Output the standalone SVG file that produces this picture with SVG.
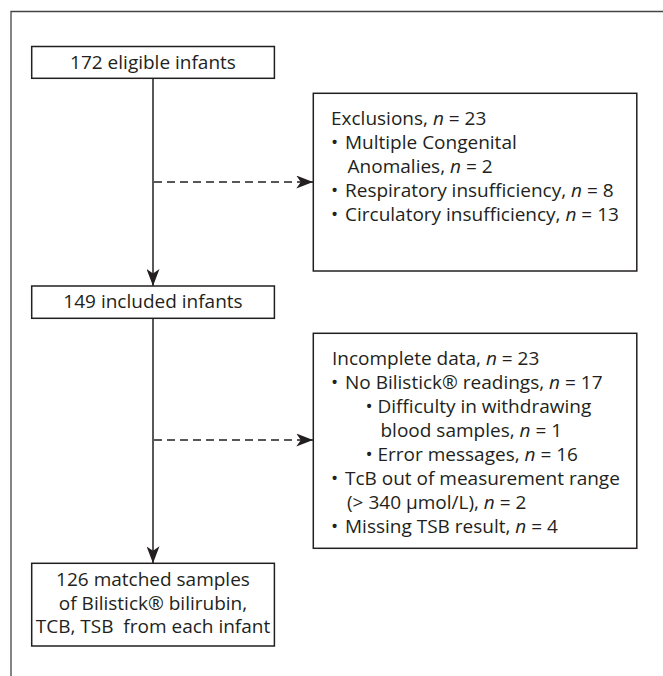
<svg xmlns="http://www.w3.org/2000/svg" width="663" height="676" viewBox="0 0 663 676">
<defs>
<style>
.t{font-family:"Open Sans","Noto Sans","Liberation Sans",sans-serif;font-size:19px;fill:#231f20}
.c{text-anchor:middle}
.box{fill:#fff;stroke:#231f20;stroke-width:1.5}
.ln{fill:none;stroke:#231f20;stroke-width:1.5}
.dash{stroke-dasharray:8 5}
.frame{fill:none;stroke:#444;stroke-width:1.3}
</style>
<marker id="ah" viewBox="0 0 17 13" refX="17" refY="6.5" markerWidth="17" markerHeight="13" markerUnits="userSpaceOnUse" orient="auto">
<path d="M0,0 L17,6.5 L0,13 L4.5,6.5 Z" fill="#231f20"/>
</marker>
</defs>
<rect width="663" height="676" fill="#fff"/>
<path class="frame" d="M11,676 V11.5 H663"/>
<g id="connectors">
<line class="ln" x1="153" y1="78.3" x2="153" y2="286" marker-end="url(#ah)"/>
<line class="ln" x1="153" y1="318.3" x2="153" y2="563.3" marker-end="url(#ah)"/>
<line class="ln dash" x1="154" y1="182" x2="313.3" y2="182" marker-end="url(#ah)"/>
<line class="ln dash" x1="154" y1="440" x2="313.3" y2="440" marker-end="url(#ah)"/>
</g>
<g id="eligible">
<rect class="box" x="31.7" y="46.5" width="242.7" height="31.8"/>
<text class="t c" x="153" y="69">172 eligible infants</text>
</g>
<g id="exclusions">
<rect class="box" x="313.3" y="93.3" width="323.5" height="177.7"/>
<text class="t" x="331" y="124.5">Exclusions, <tspan font-style="italic">n</tspan> = 23</text>
<text class="t" y="148.5"><tspan x="331">•</tspan><tspan x="345">Multiple Congenital</tspan></text>
<text class="t" x="347.6" y="172.5">Anomalies, <tspan font-style="italic">n</tspan> = 2</text>
<text class="t" y="196.5"><tspan x="331">•</tspan><tspan x="345">Respiratory insufficiency, </tspan><tspan font-style="italic">n</tspan> = 8</text>
<text class="t" y="220.5"><tspan x="331">•</tspan><tspan x="345">Circulatory insufficiency, </tspan><tspan font-style="italic">n</tspan> = 13</text>
</g>
<g id="included">
<rect class="box" x="31.7" y="286" width="242.7" height="32.3"/>
<text class="t c" x="153" y="308">149 included infants</text>
</g>
<g id="incomplete">
<rect class="box" x="313.3" y="333.3" width="323.5" height="215"/>
<text class="t" x="332" y="365">Incomplete data, <tspan font-style="italic">n</tspan> = 23</text>
<text class="t" y="389"><tspan x="331">•</tspan><tspan x="345">No Bilistick® readings, </tspan><tspan font-style="italic">n</tspan> = 17</text>
<text class="t" y="413"><tspan x="365.5">•</tspan><tspan x="377.5">Difficulty in withdrawing</tspan></text>
<text class="t" x="380.5" y="437">blood samples, <tspan font-style="italic">n</tspan> = 1</text>
<text class="t" y="461"><tspan x="365.5">•</tspan><tspan x="377.5">Error messages, </tspan><tspan font-style="italic">n</tspan> = 16</text>
<text class="t" y="485"><tspan x="331">•</tspan><tspan x="345">TcB out of measurement range</tspan></text>
<text class="t" x="347" y="509">(&gt; 340 µmol/L), <tspan font-style="italic">n</tspan> = 2</text>
<text class="t" y="533"><tspan x="331">•</tspan><tspan x="345">Missing TSB result, </tspan><tspan font-style="italic">n</tspan> = 4</text>
</g>
<g id="matched">
<rect class="box" x="31.7" y="563.3" width="242.7" height="82.7"/>
<text class="t c" x="153" y="586">126 matched samples</text>
<text class="t c" x="153" y="609.5">of Bilistick® bilirubin,</text>
<text class="t c" x="153" y="633" xml:space="preserve">TCB, TSB  from each infant</text>
</g>
</svg>
